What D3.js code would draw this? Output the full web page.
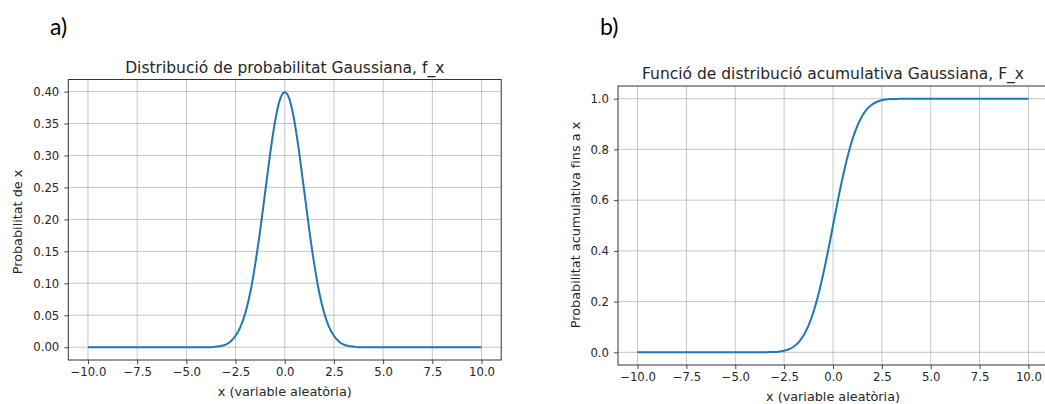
<!DOCTYPE html>
<html lang="ca">
<head>
    <meta charset="UTF-8">
    <title>Distribució Gaussiana</title>
    <script src="https://d3js.org/d3.v7.min.js"></script>
    <style>
        body { margin: 0; background: #fff; }
        svg { display: block; font-family: "DejaVu Sans", sans-serif; }
        .tick text { font-size: 11.7px; fill: #262626; }
        .title { font-size: 15.5px; fill: #262626; text-anchor: middle; }
        .axis-label { font-size: 12.8px; fill: #262626; text-anchor: middle; }
        .panel-label { font-family: Lato, "Open Sans", sans-serif; font-size: 23px; fill: #000; }
    </style>
</head>
<body>
    <svg width="1045" height="404"></svg>
    <script>
        // valors llegits de la figura
        const xValues = [-10, -8, -6, -5, -4.5, -4, -3.75, -3.5, -3.25, -3, -2.75, -2.5, -2.25, -2, -1.75, -1.5, -1.25, -1, -0.75, -0.5, -0.25,
            0, 0.25, 0.5, 0.75, 1, 1.25, 1.5, 1.75, 2, 2.25, 2.5, 2.75, 3, 3.25, 3.5, 3.75, 4, 4.5, 5, 6, 8, 10];
        const pdfValues = [0, 0, 0, 0, 0, 0, 0, 0.001, 0.002, 0.004, 0.009, 0.018, 0.032, 0.054, 0.086, 0.130, 0.183, 0.242, 0.301, 0.352, 0.387,
            0.399, 0.387, 0.352, 0.301, 0.242, 0.183, 0.130, 0.086, 0.054, 0.032, 0.018, 0.009, 0.004, 0.002, 0.001, 0, 0, 0, 0, 0, 0, 0];
        const cdfValues = [0, 0, 0, 0, 0, 0, 0, 0, 0.001, 0.001, 0.003, 0.006, 0.012, 0.023, 0.040, 0.067, 0.106, 0.159, 0.227, 0.309, 0.401,
            0.500, 0.599, 0.691, 0.773, 0.841, 0.894, 0.933, 0.960, 0.977, 0.988, 0.994, 0.997, 0.999, 0.999, 1, 1, 1, 1, 1, 1, 1, 1];
        const xTicks = [-10, -7.5, -5, -2.5, 0, 2.5, 5, 7.5, 10];
        const pdfTicks = [0, 0.05, 0.10, 0.15, 0.20, 0.25, 0.30, 0.35, 0.40];
        const cdfTicks = [0, 0.2, 0.4, 0.6, 0.8, 1.0];

        const svg = d3.select("svg");

        function panel(opts) {
            const g = svg.append("g");
            const x = d3.scaleLinear().domain([-11, 11]).range([opts.left, opts.right]);
            const y = d3.scaleLinear().domain(opts.yDomain).range([opts.bottom, opts.top]);

            // graella
            g.append("g").selectAll("line").data(xTicks).enter().append("line")
                .attr("x1", d => x(d)).attr("x2", d => x(d))
                .attr("y1", opts.top).attr("y2", opts.bottom)
                .attr("stroke", "#b0b0b0").attr("stroke-width", 0.9).attr("stroke-opacity", 0.8);
            g.append("g").selectAll("line").data(opts.yTicks).enter().append("line")
                .attr("x1", opts.left).attr("x2", opts.right)
                .attr("y1", d => y(d)).attr("y2", d => y(d))
                .attr("stroke", "#b0b0b0").attr("stroke-width", 0.9).attr("stroke-opacity", 0.8);

            // corba
            const data = xValues.map((v, i) => [v, opts.values[i]]);
            g.append("path").datum(data)
                .attr("fill", "none").attr("stroke", "#1f77b4").attr("stroke-width", 2)
                .attr("d", d3.line().x(d => x(d[0])).y(d => y(d[1])).curve(d3.curveMonotoneX));

            // eixos
            const xa = g.append("g").attr("transform", `translate(0,${opts.bottom})`)
                .call(d3.axisBottom(x).tickValues(xTicks).tickFormat(d3.format(".1f")).tickSize(4).tickPadding(4));
            const ya = g.append("g").attr("transform", `translate(${opts.left},0)`)
                .call(d3.axisLeft(y).tickValues(opts.yTicks).tickFormat(d3.format(opts.yFormat)).tickSize(4).tickPadding(5));
            [xa, ya].forEach(a => {
                a.attr("font-family", null).attr("font-size", null);
                a.select(".domain").remove();
                a.selectAll(".tick line").attr("stroke", "#333").attr("stroke-width", 0.9);
            });

            g.append("rect")
                .attr("x", opts.left).attr("y", opts.top)
                .attr("width", opts.right - opts.left).attr("height", opts.bottom - opts.top)
                .attr("fill", "none").attr("stroke", "#333").attr("stroke-width", 1);

            g.append("text").attr("class", "title")
                .attr("x", (opts.left + opts.right) / 2).attr("y", opts.top - 7)
                .text(opts.title);
            g.append("text").attr("class", "axis-label")
                .attr("x", (opts.left + opts.right) / 2).attr("y", opts.bottom + 36)
                .text("x (variable aleatòria)");
            g.append("text").attr("class", "axis-label")
                .attr("transform", `translate(${opts.ylabelX},${opts.ylabelY}) rotate(-90)`)
                .text(opts.ylabel);
            g.append("text").attr("class", "panel-label")
                .attr("x", opts.tagX).attr("y", 35)
                .text(opts.tag);
        }

        panel({
            left: 68.3, right: 501.2, top: 79.5, bottom: 360,
            yDomain: [-0.01995, 0.41888], yTicks: pdfTicks, yFormat: ".2f", values: pdfValues,
            title: "Distribució de probabilitat Gaussiana, f_x",
            ylabel: "Probabilitat de x", ylabelX: 22, ylabelY: 222,
            tag: "a)", tagX: 50
        });
        panel({
            left: 618, right: 1048, top: 86, bottom: 365,
            yDomain: [-0.05, 1.05], yTicks: cdfTicks, yFormat: ".1f", values: cdfValues,
            title: "Funció de distribució acumulativa Gaussiana, F_x",
            ylabel: "Probabilitat acumulativa fins a x", ylabelX: 580, ylabelY: 225,
            tag: "b)", tagX: 600
        });
    </script>
</body>
</html>
